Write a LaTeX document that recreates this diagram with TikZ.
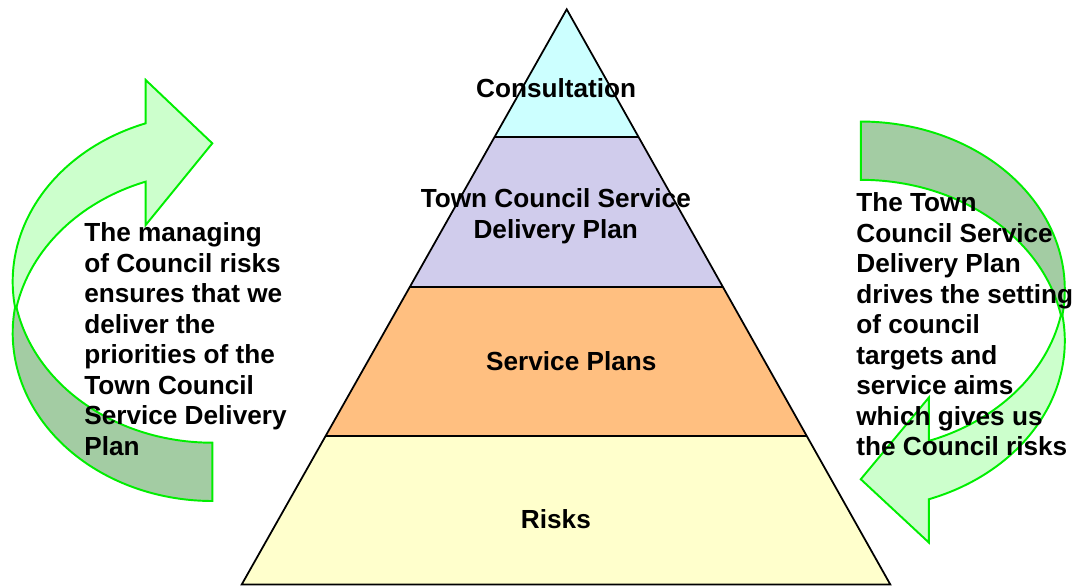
\documentclass[tikz,border=0pt]{standalone}
\usepackage{fontspec}
\setmainfont{Liberation Sans}
\definecolor{arrowgreen}{RGB}{0,238,0}
\definecolor{lightgreen}{RGB}{204,255,204}
\definecolor{darkgreen}{RGB}{163,204,163}
\definecolor{cyanfill}{RGB}{204,255,255}
\definecolor{purplefill}{RGB}{208,204,236}
\definecolor{orangefill}{RGB}{255,191,128}
\definecolor{yellowfill}{RGB}{255,255,204}
\newcommand{\mycurvedarrow}{%
  % darker, lower band
  \draw[arrowband, fill=darkgreen]
    (15.03,307.35) arc[start angle=188.78, end angle=90, x radius=199.6, y radius=168]
    -- (212.3,442.7) arc[start angle=90, end angle=168.79, x radius=199.6, y radius=168]
    -- cycle;
  % light upper band with arrow head
  \draw[arrowband, fill=lightgreen]
    (145.7,123.3) arc[start angle=250.51, end angle=171.22, x radius=199.6, y radius=168]
    -- (16.5,307.35) arc[start angle=191.21, end angle=250.51, x radius=199.6, y radius=168]
    -- (145.7,225) -- (212.3,143.3) -- (145.7,80) -- cycle;
}
\begin{document}
\begin{tikzpicture}[x=0.02cm, y=-0.02cm,
  arrowband/.style={draw=arrowgreen, line width=1.1pt, line join=miter},
  lbl/.style={inner sep=0pt, font=\bfseries\fontsize{14.9pt}{17.36pt}\selectfont},
  edge/.style={draw=black, line width=1pt}]
\useasboundingbox (0,0) rectangle (1081,585);

% left curved arrow
\begin{scope}
  \mycurvedarrow
\end{scope}
% right curved arrow (point reflection of the left one)
\begin{scope}[shift={(21.5596cm,-12.453cm)}, x={(-0.02044cm,0cm)}, y={(0cm,0.02cm)}]
  \mycurvedarrow
\end{scope}

% pyramid
\coordinate (apex) at (566.7,9.3);
\coordinate (bl) at (241.7,584.5);
\coordinate (br) at (890.3,584.5);
\begin{scope}
  \clip (apex) -- (bl) -- (br) -- cycle;
  \fill[cyanfill] (0,0) rectangle (1081,136.7);
  \fill[purplefill] (0,136.7) rectangle (1081,286.7);
  \fill[orangefill] (0,286.7) rectangle (1081,435.7);
  \fill[yellowfill] (0,435.7) rectangle (1081,600);
  \draw[edge] (0,136.7) -- (1081,136.7);
  \draw[edge] (0,286.7) -- (1081,286.7);
  \draw[edge] (0,435.7) -- (1081,435.7);
\end{scope}
\draw[edge, line join=miter] (apex) -- (bl) -- (br) -- cycle;

% pyramid labels
\node[lbl, anchor=base] (consult) at (556.2,97.3) {Consultation};
\node[lbl, anchor=base] (tcsdp) at (555.8,207.7) {\begin{tabular}[t]{@{}c@{}}Town Council Service\\Delivery Plan\end{tabular}};
\node[lbl, anchor=base] (splans) at (571.3,370) {Service Plans};
\node[lbl, anchor=base] (risks) at (555.9,528.3) {Risks};

% side texts
\node[lbl, anchor=base west] (lefttext) at (84,241.7) {\begin{tabular}[t]{@{}l@{}}The managing\\of Council risks\\ensures that we\\deliver the\\priorities of the\\Town Council\\Service Delivery\\Plan\end{tabular}};
\node[lbl, anchor=base west] (righttext) at (856,211.7) {\begin{tabular}[t]{@{}l@{}}The Town\\Council Service\\Delivery Plan\\drives the setting\\of council\\targets and\\service aims\\which gives us\\the Council risks\end{tabular}};
\end{tikzpicture}
\end{document}
